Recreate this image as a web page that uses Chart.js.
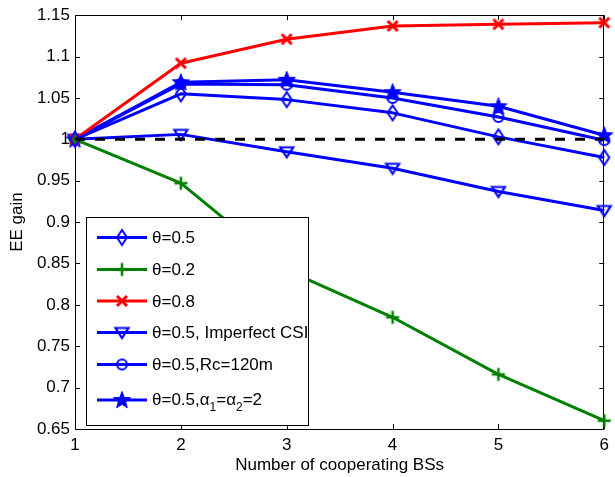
<!DOCTYPE html>
<html>
<head>
<meta charset="utf-8">
<script src="https://cdn.jsdelivr.net/npm/chart.js@4.4.1/dist/chart.umd.min.js"></script>
<style>
html,body{margin:0;padding:0;background:#fff;}
#wrap{width:615px;height:477px;position:relative;}
</style>
</head>
<body>
<div id="wrap"><canvas id="c" width="615" height="477"></canvas></div>
<script>
// ---- data ----
const xValues = [1, 2, 3, 4, 5, 6];
const theta05 = [1.000, 1.055, 1.048, 1.032, 1.003, 0.978];
const theta02 = [1.000, 0.947, 0.842, 0.785, 0.716, 0.660];
const theta08 = [1.000, 1.092, 1.121, 1.137, 1.139, 1.141];
const theta05Imperfect = [1.000, 1.006, 0.985, 0.965, 0.937, 0.914];
const theta05Rc120 = [1.000, 1.067, 1.066, 1.050, 1.027, 0.999];
const theta05Alpha2 = [1.000, 1.069, 1.072, 1.057, 1.040, 1.005];
const baseline = [1, 1, 1, 1, 1, 1];
const xTicks = [1, 2, 3, 4, 5, 6];
const yTicks = [0.65, 0.7, 0.75, 0.8, 0.85, 0.9, 0.95, 1, 1.05, 1.1, 1.15];
const yTickLabels = ['0.65', '0.7', '0.75', '0.8', '0.85', '0.9', '0.95', '1', '1.05', '1.1', '1.15'];
const legendLabels = ['θ=0.5', 'θ=0.2', 'θ=0.8', 'θ=0.5, Imperfect CSI', 'θ=0.5,Rc=120m', 'θ=0.5,α1=α2=2'];
const xTitle = 'Number of cooperating BSs';
const yTitle = 'EE gain';

const FONT = '"Liberation Sans", Arial, Helvetica, sans-serif';
const BLUE = '#0000ff', GREEN = '#008000', RED = '#ff0000';

// ---- marker images ----
function mk(w, h, draw) {
  const c = document.createElement('canvas');
  c.width = w; c.height = h;
  const g = c.getContext('2d');
  draw(g, w, h);
  return c;
}
const diamond = mk(16, 20, (g) => {
  g.strokeStyle = BLUE; g.lineWidth = 2;
  g.beginPath(); g.moveTo(8, 2.5); g.lineTo(13, 10); g.lineTo(8, 17.5); g.lineTo(3, 10); g.closePath(); g.stroke();
});
const plus = mk(16, 16, (g) => {
  g.strokeStyle = GREEN; g.lineWidth = 2.5;
  g.beginPath(); g.moveTo(8, 1.5); g.lineTo(8, 14.5); g.moveTo(1.5, 8); g.lineTo(14.5, 8); g.stroke();
});
const cross = mk(16, 16, (g) => {
  g.strokeStyle = RED; g.lineWidth = 3;
  g.beginPath(); g.moveTo(3, 3); g.lineTo(13, 13); g.moveTo(13, 3); g.lineTo(3, 13); g.stroke();
});
const triDown = mk(18, 16, (g) => {
  g.strokeStyle = BLUE; g.lineWidth = 2.2;
  g.beginPath(); g.moveTo(2.5, 3.5); g.lineTo(15.5, 3.5); g.lineTo(9, 13.5); g.closePath(); g.stroke();
});
const circle = mk(16, 16, (g) => {
  g.strokeStyle = BLUE; g.lineWidth = 2;
  g.beginPath(); g.arc(8, 8, 5, 0, Math.PI * 2); g.stroke();
});
const star = mk(22, 22, (g) => {
  g.fillStyle = BLUE; g.strokeStyle = BLUE; g.lineWidth = 1;
  g.beginPath();
  const R = 9, r = 3.8, cx = 11, cy = 11.5;
  for (let i = 0; i < 10; i++) {
    const a = -Math.PI / 2 + i * Math.PI / 5;
    const rad = i % 2 === 0 ? R : r;
    const px = cx + rad * Math.cos(a), py = cy + rad * Math.sin(a);
    i === 0 ? g.moveTo(px, py) : g.lineTo(px, py);
  }
  g.closePath(); g.fill(); g.stroke();
});

function series(vals) { return xValues.map((x, i) => ({ x: x, y: vals[i] })); }

const datasets = [
  { label: 'baseline', data: series(baseline), borderColor: '#000', borderWidth: 3, borderDash: [10, 10], pointRadius: 0, fill: false, clip: false },
  { label: legendLabels[0], data: series(theta05), borderColor: BLUE, borderWidth: 3, pointStyle: diamond, marker: diamond, clip: false },
  { label: legendLabels[1], data: series(theta02), borderColor: GREEN, borderWidth: 3, pointStyle: plus, marker: plus, clip: false },
  { label: legendLabels[2], data: series(theta08), borderColor: RED, borderWidth: 3, pointStyle: cross, marker: cross, clip: false },
  { label: legendLabels[3], data: series(theta05Imperfect), borderColor: BLUE, borderWidth: 3, pointStyle: triDown, marker: triDown, clip: false },
  { label: legendLabels[4], data: series(theta05Rc120), borderColor: BLUE, borderWidth: 3, pointStyle: circle, marker: circle, clip: false },
  { label: legendLabels[5], data: series(theta05Alpha2), borderColor: BLUE, borderWidth: 3, pointStyle: star, marker: star, clip: false }
];
datasets.forEach(d => { d.tension = 0; d.fill = false; if (d.pointRadius === undefined) { d.pointRadius = 6; d.pointHoverRadius = 6; } });

const framePlugin = {
  id: 'frame',
  beforeDatasetsDraw(chart) {
    const { ctx, chartArea: a, scales: { x, y } } = chart;
    ctx.save();
    ctx.strokeStyle = '#000'; ctx.lineWidth = 1;
    ctx.beginPath();
    xTicks.forEach(v => {
      const px = Math.round(x.getPixelForValue(v)) + 0.5;
      ctx.moveTo(px, a.bottom); ctx.lineTo(px, a.bottom - 5);
      ctx.moveTo(px, a.top); ctx.lineTo(px, a.top + 5);
    });
    yTicks.forEach(v => {
      const py = Math.round(y.getPixelForValue(v)) + 0.5;
      ctx.moveTo(a.left, py); ctx.lineTo(a.left + 5, py);
      ctx.moveTo(a.right, py); ctx.lineTo(a.right - 5, py);
    });
    ctx.stroke();
    ctx.strokeRect(Math.round(a.left) + 0.5, Math.round(a.top) + 0.5, Math.round(a.right - a.left) - 1, Math.round(a.bottom - a.top));
    ctx.restore();
  }
};

const legendPlugin = {
  id: 'boxLegend',
  afterDatasetsDraw(chart) {
    const ctx = chart.ctx;
    const bx = 86.5, by = 217.5, bw = 222, bh = 208;
    const rows = [237.5, 269.5, 301, 332.5, 364.5, 400];
    ctx.save();
    ctx.fillStyle = '#fff';
    ctx.fillRect(bx, by, bw, bh);
    ctx.strokeStyle = '#000'; ctx.lineWidth = 1;
    ctx.strokeRect(bx, by, bw, bh);
    const sets = chart.data.datasets.slice(1);
    sets.forEach((d, i) => {
      const yy = rows[i];
      ctx.strokeStyle = d.borderColor; ctx.lineWidth = 3; ctx.setLineDash([]);
      ctx.beginPath(); ctx.moveTo(97, yy); ctx.lineTo(147, yy); ctx.stroke();
      const m = d.marker;
      ctx.drawImage(m, 122 - m.width / 2, yy - m.height / 2);
      ctx.fillStyle = '#000';
      ctx.textBaseline = 'middle'; ctx.textAlign = 'left';
      ctx.font = '17px ' + FONT;
      if (i < 5) {
        ctx.fillText(d.label, 152, yy + 1);
      } else {
        let xx = 152;
        const parts = [['θ=0.5,α', 0], ['1', 1], ['=α', 0], ['2', 1], ['=2', 0]];
        parts.forEach(([t, sub]) => {
          ctx.font = (sub ? '12px ' : '17px ') + FONT;
          ctx.fillText(t, xx, yy + (sub ? 8 : 0));
          xx += ctx.measureText(t).width;
        });
      }
    });
    ctx.restore();
  }
};

new Chart(document.getElementById('c'), {
  type: 'line',
  data: { datasets: datasets },
  options: {
    responsive: false,
    animation: false,
    devicePixelRatio: 1,
    layout: { padding: { left: 0, right: 7, top: 15, bottom: 0 } },
    plugins: { legend: { display: false }, tooltip: { enabled: false } },
    elements: { line: { borderJoinStyle: 'round' } },
    scales: {
      x: {
        type: 'linear', min: 1, max: 6,
        afterBuildTicks: s => { s.ticks = xTicks.map(v => ({ value: v })); },
        afterFit: s => { s.height = 48; },
        grid: { display: false, drawTicks: false },
        border: { display: false },
        ticks: { color: '#000', font: { family: FONT, size: 17 }, padding: 6, maxRotation: 0, autoSkip: false, callback: v => String(v) },
        title: { display: true, text: xTitle, color: '#000', font: { family: FONT, size: 17 }, padding: { top: 0, bottom: 1 } }
      },
      y: {
        type: 'linear', min: 0.65, max: 1.15,
        afterBuildTicks: s => { s.ticks = yTicks.map(v => ({ value: v })); },
        afterFit: s => { s.width = 75; },
        grid: { display: false, drawTicks: false },
        border: { display: false },
        ticks: { color: '#000', font: { family: FONT, size: 17 }, padding: 5, autoSkip: false,
          callback: (v, i) => yTickLabels[i] },
        title: { display: true, text: yTitle, color: '#000', font: { family: FONT, size: 17 }, padding: { top: 7, bottom: 0 } }
      }
    }
  },
  plugins: [framePlugin, legendPlugin]
});
</script>
</body>
</html>
